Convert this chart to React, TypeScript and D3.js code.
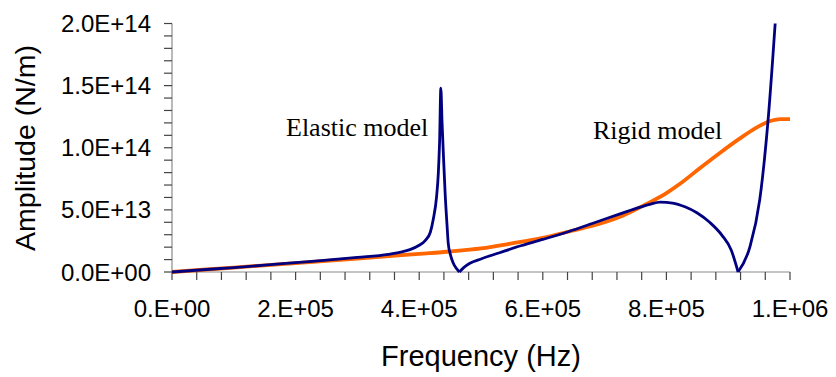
import React from "react";
import * as d3 from "d3";

// Frequency (Hz) and amplitude (N/m)
const elasticFreq = [
  0, 0.05e6, 0.1e6, 0.15e6, 0.2e6, 0.25e6, 0.3e6, 0.35e6, 0.37e6, 0.385e6, 0.4e6, 0.41e6, 0.418e6,
  0.423e6, 0.428e6, 0.431e6, 0.433e6, 0.435e6, 0.437e6, 0.44e6, 0.442e6, 0.445e6, 0.447e6, 0.45e6,
  0.455e6, 0.46e6, 0.465e6, 0.472e6, 0.482e6, 0.5e6, 0.53e6, 0.56e6, 0.6e6, 0.641e6, 0.68e6,
  0.725e6, 0.75e6, 0.773e6, 0.79e6, 0.81e6, 0.83e6, 0.85e6, 0.87e6, 0.89e6, 0.905e6, 0.916e6,
  0.935e6, 0.951e6, 0.965e6, 0.976e6,
];
const elasticAmp = [
  0, 0.18e13, 0.36e13, 0.55e13, 0.75e13, 0.95e13, 1.17e13, 1.42e13, 1.6e13, 1.8e13, 2.15e13, 2.55e13, 3.2e13,
  4.3e13, 6.0e13, 8.0e13, 10.5e13, 14.8e13, 12.0e13, 8.5e13, 6.3e13, 3.8e13, 2.3e13, 1.5e13,
  0.72e13, 0.3e13, 0, 0.35e13, 0.7e13, 1.05e13, 1.55e13, 2.05e13, 2.62e13, 3.24e13, 3.9e13,
  4.68e13, 5.1e13, 5.45e13, 5.62e13, 5.55e13, 5.25e13, 4.75e13, 4.0e13, 2.95e13, 1.75e13, 0,
  2.0e13, 5.8e13, 12.5e13, 20.0e13,
];

const rigidFreq = [
  0, 0.1e6, 0.2e6, 0.3e6, 0.4e6, 0.45e6, 0.5e6, 0.55e6, 0.6e6, 0.641e6, 0.7e6, 0.725e6, 0.757e6,
  0.773e6, 0.8e6, 0.822e6, 0.854e6, 0.887e6, 0.919e6, 0.945e6, 0.968e6, 0.985e6, 1.0e6,
];
const rigidAmp = [
  0, 0.36e13, 0.72e13, 1.08e13, 1.46e13, 1.65e13, 1.9e13, 2.3e13, 2.75e13, 3.24e13, 4.0e13, 4.45e13, 5.2e13,
  5.6e13, 6.35e13, 7.1e13, 8.35e13, 9.6e13, 10.75e13, 11.6e13, 12.15e13, 12.3e13, 12.3e13,
];

const xTickLabels = ["0.E+00", "2.E+05", "4.E+05", "6.E+05", "8.E+05", "1.E+06"];
const xTickValues = [0, 2e5, 4e5, 6e5, 8e5, 1e6];
const yTickLabels = ["0.0E+00", "5.0E+13", "1.0E+14", "1.5E+14", "2.0E+14"];
const yTickValues = [0, 5e13, 1e14, 1.5e14, 2e14];

const W = 836;
const H = 377;

export default function App() {
  const x = d3.scaleLinear().domain([0, 1e6]).range([172, 790]);
  const y = d3.scaleLinear().domain([0, 2e14]).range([272, 23.5]);

  const elastic = elasticFreq.map((f, i) => [f, elasticAmp[i]] as [number, number]);
  const rigid = rigidFreq.map((f, i) => [f, rigidAmp[i]] as [number, number]);

  // split the elastic curve at its zero minima so the V-shaped notches stay sharp
  const segments: [number, number][][] = [];
  let cur: [number, number][] = [];
  elastic.forEach((p, i) => {
    cur.push(p);
    if (p[1] === 0 && i > 0 && i < elastic.length - 1) {
      segments.push(cur);
      cur = [p];
    }
  });
  segments.push(cur);

  const line = d3
    .line<[number, number]>()
    .x((d) => x(d[0]))
    .y((d) => y(d[1]))
    .curve(d3.curveMonotoneX);

  const minorY = d3.range(0, 21).map((i) => i * 1e13);
  const minorX = d3.range(0, 26).map((i) => i * 4e4);
  const axisColor = "#8a8a8a";
  const sans = "Arial, 'Liberation Sans', sans-serif";
  const serif = "'Times New Roman', 'Liberation Serif', serif";

  return (
    <svg
      width={W}
      height={H}
      style={{ position: "absolute", left: 0, top: 0, background: "#fff" }}
    >
      <rect x={0} y={0} width={W} height={H} fill="#fff" />
      {/* y axis */}
      <line x1={x(0)} x2={x(0)} y1={y(2e14)} y2={y(0)} stroke={axisColor} strokeWidth={1.2} />
      {minorY.map((v) => (
        <line key={"yt" + v} x1={x(0) - 8} x2={x(0)} y1={y(v)} y2={y(v)} stroke="#444" strokeWidth={1.2} />
      ))}
      {yTickValues.map((v, i) => (
        <text
          key={"yl" + v}
          x={151}
          y={y(v)}
          textAnchor="end"
          dominantBaseline="central"
          fontFamily={sans}
          fontSize={24}
          fill="#000"
        >
          {yTickLabels[i]}
        </text>
      ))}
      {/* x axis */}
      <line x1={x(0)} x2={x(1e6)} y1={y(0)} y2={y(0)} stroke={axisColor} strokeWidth={1.2} />
      {minorX.map((v) => (
        <line key={"xt" + v} x1={x(v)} x2={x(v)} y1={y(0)} y2={y(0) + 8} stroke="#444" strokeWidth={1.2} />
      ))}
      {xTickValues.map((v, i) => (
        <text
          key={"xl" + v}
          x={x(v)}
          y={317}
          textAnchor="middle"
          fontFamily={sans}
          fontSize={24}
          fill="#000"
        >
          {xTickLabels[i]}
        </text>
      ))}
      <text x={481} y={366} textAnchor="middle" fontFamily={sans} fontSize={29} fill="#000">
        Frequency (Hz)
      </text>
      <text
        transform={`translate(35,148) rotate(-90)`}
        textAnchor="middle"
        fontFamily={sans}
        fontSize={28.5}
        fill="#000"
      >
        Amplitude (N/m)
      </text>

      {/* series */}
      <path d={line(rigid) || ""} fill="none" stroke="#FF6600" strokeWidth={3.8} strokeLinejoin="round" />
      {segments.map((s, i) => (
        <path key={"seg" + i} d={line(s) || ""} fill="none" stroke="#000080" strokeWidth={2.8} strokeLinejoin="round" />
      ))}

      {/* annotations */}
      <text x={286} y={136} fontFamily={serif} fontSize={26} fill="#000">
        Elastic model
      </text>
      <text x={593} y={139} fontFamily={serif} fontSize={26} fill="#000">
        Rigid model
      </text>
    </svg>
  );
}
